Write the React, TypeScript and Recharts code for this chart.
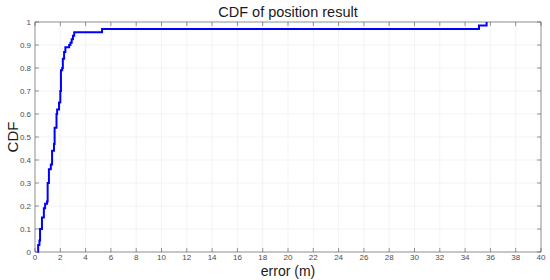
import React from 'react';
import { LineChart, Line, XAxis, YAxis, CartesianGrid, ReferenceLine } from 'recharts';

const errors = [0.2, 0.25, 0.35, 0.4, 0.55, 0.7, 0.8, 0.95, 1.0, 1.1, 1.25, 1.35, 1.5, 1.55, 1.7, 1.75, 1.9, 2.0, 2.05, 2.15, 2.2, 2.3, 2.4, 2.7, 2.8, 2.9, 3.0, 3.1, 5.3, 35.1, 35.7];
const cdfValues = [0, 0.03, 0.05, 0.1, 0.15, 0.19, 0.21, 0.22, 0.3, 0.36, 0.38, 0.44, 0.47, 0.54, 0.6, 0.62, 0.65, 0.7, 0.79, 0.8, 0.84, 0.87, 0.89, 0.9, 0.91, 0.925, 0.94, 0.955, 0.97, 0.985, 1.0];
const xTicks = [0, 2, 4, 6, 8, 10, 12, 14, 16, 18, 20, 22, 24, 26, 28, 30, 32, 34, 36, 38, 40];
const yTicks = [0, 0.1, 0.2, 0.3, 0.4, 0.5, 0.6, 0.7, 0.8, 0.9, 1];

const data = errors.map((e, i) => ({ x: e, y: cdfValues[i] }));

const FONT = '"Liberation Sans", Arial, sans-serif';
const AXIS = '#4d4d4d';

const XTick = (props: any) => {
  const { x, y, payload } = props;
  return (
    <g>
      <line x1={x} y1={y} x2={x} y2={y - 4} stroke={AXIS} strokeWidth={0.6} />
      <line x1={x} y1={22} x2={x} y2={26} stroke={AXIS} strokeWidth={0.6} />
      <text x={x} y={y + 8} textAnchor="middle" fontSize={8} fill={AXIS} fontFamily={FONT}>{payload.value}</text>
    </g>
  );
};

const YTick = (props: any) => {
  const { x, y, payload } = props;
  return (
    <g>
      <line x1={x} y1={y} x2={x + 4} y2={y} stroke={AXIS} strokeWidth={0.6} />
      <line x1={541} y1={y} x2={537} y2={y} stroke={AXIS} strokeWidth={0.6} />
      <text x={x - 4} y={y + 3} textAnchor="end" fontSize={8} fill={AXIS} fontFamily={FONT}>{payload.value}</text>
    </g>
  );
};

export default function App() {
  return (
    <div style={{ position: 'absolute', left: 0, top: 0, width: 550, height: 280, background: '#fff' }}>
      <LineChart width={550} height={280} data={data} margin={{ top: 22, right: 9, bottom: 0, left: 0 }}>
        <CartesianGrid stroke="#ebebeb" strokeWidth={0.6} horizontalValues={yTicks} verticalValues={xTicks} />
        <XAxis dataKey="x" type="number" domain={[0, 40]} ticks={xTicks} height={28} stroke={AXIS} strokeWidth={0.6} tickLine={false} tickSize={0} tickMargin={0} tick={<XTick />} interval={0} />
        <YAxis type="number" domain={[0, 1]} ticks={yTicks} width={35} stroke={AXIS} strokeWidth={0.6} tickLine={false} tickSize={0} tickMargin={0} tick={<YTick />} interval={0} />
        <ReferenceLine x={40} stroke={AXIS} strokeWidth={0.6} />
        <ReferenceLine y={1} stroke={AXIS} strokeWidth={0.6} />
        <Line type="stepAfter" dataKey="y" stroke="#0000ff" strokeWidth={2} dot={false} isAnimationActive={false} />
        <text x={288} y={17} textAnchor="middle" fontSize={14.5} fill="#1a1a1a" fontFamily={FONT}>CDF of position result</text>
        <text x={288} y={276} textAnchor="middle" fontSize={14} fill="#1a1a1a" fontFamily={FONT}>error (m)</text>
        <text x={18} y={137} textAnchor="middle" fontSize={15} fill="#1a1a1a" fontFamily={FONT} transform="rotate(-90 18 137)">CDF</text>
      </LineChart>
    </div>
  );
}
